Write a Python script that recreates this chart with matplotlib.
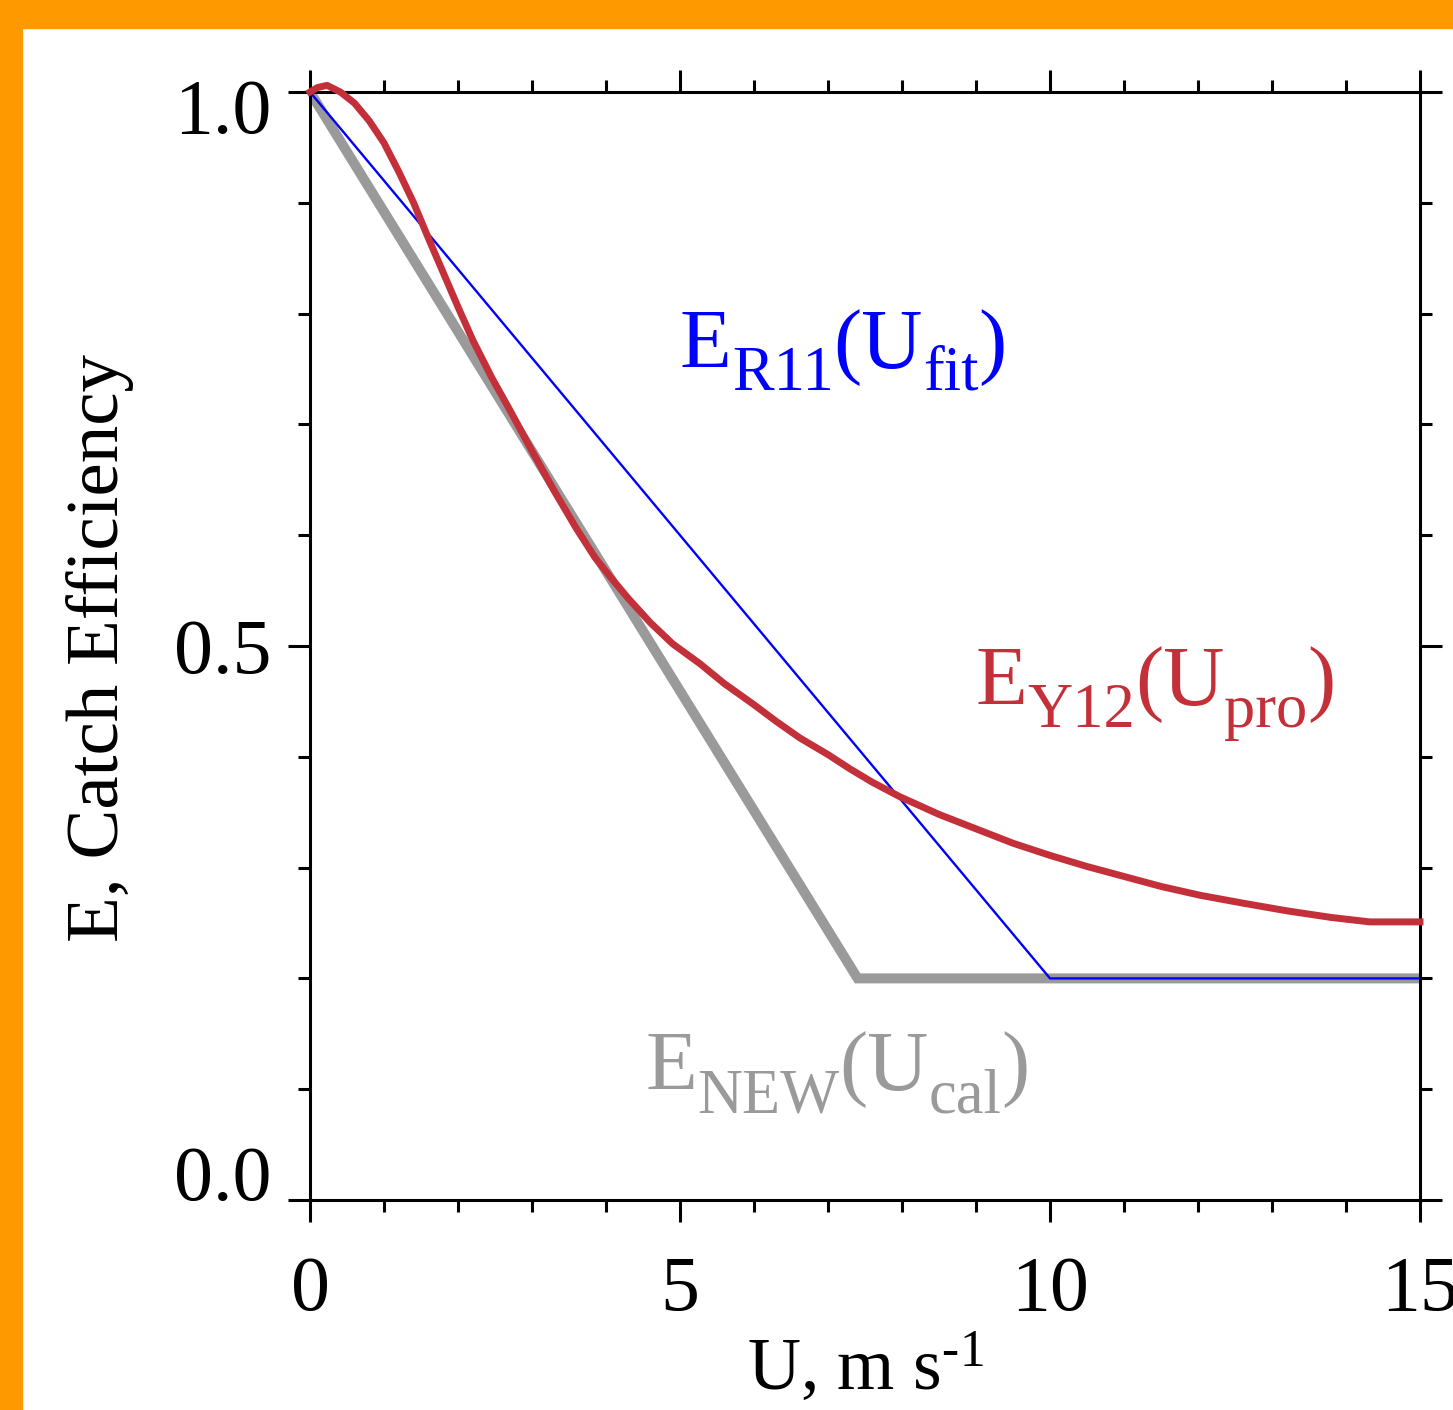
import numpy as np
import matplotlib.pyplot as plt
from matplotlib.patches import Rectangle
from matplotlib.ticker import MultipleLocator
import matplotlib.transforms as mtransforms

plt.rcParams['font.family'] = ['Liberation Serif', 'DejaVu Serif']
plt.rcParams['mathtext.fontset'] = 'custom'
plt.rcParams['mathtext.rm'] = 'Liberation Serif'
plt.rcParams['mathtext.it'] = 'Liberation Serif:italic'

# Datos
u_new = [0, 7.4, 15]
e_new = [1.0, 0.2, 0.2]

u_r11 = [0, 10, 15]
e_r11 = [1.0, 0.2, 0.2]

u_y12 = [0, 0.1, 0.23, 0.41, 0.6, 0.8, 1.0, 1.2, 1.4, 1.6, 1.8, 2.0, 2.2,
         2.45, 2.7, 3.0, 3.3, 3.6, 3.85, 4.05, 4.3, 4.6, 4.9, 5.27, 5.6, 6.0,
         6.3, 6.62, 7.0, 7.3, 7.6, 7.97, 8.5, 9.0, 9.5, 10.0, 10.5, 11.0,
         11.5, 12.03, 12.6, 13.2, 13.8, 14.32, 15.0]
e_y12 = [1.0, 1.004, 1.006, 1.0, 0.990, 0.974, 0.954, 0.928, 0.900, 0.868,
         0.837, 0.806, 0.776, 0.743, 0.713, 0.676, 0.640, 0.606, 0.580, 0.563,
         0.543, 0.521, 0.502, 0.484, 0.466, 0.447, 0.432, 0.417, 0.402, 0.389,
         0.377, 0.364, 0.348, 0.335, 0.322, 0.311, 0.301, 0.292, 0.283, 0.275,
         0.268, 0.261, 0.255, 0.251, 0.251]

xticks = [0, 5, 10, 15]
yticks = [0.0, 0.5, 1.0]
ytick_labels = ['0.0', '0.5', '1.0']

W, H = 1453, 1410
fig = plt.figure(figsize=(W / 100, H / 100), dpi=100)
ax = fig.add_axes([310 / W, 1 - 1200 / H, 1110 / W, 1108 / H])

gris = '#9a9a9a'
rojo = '#c4303a'
azul = '#0000ff'

ax.plot(u_new, e_new, color=gris, lw=7.2, solid_joinstyle='miter', zorder=2)
ax.plot(u_r11, e_r11, color=azul, lw=1.7, zorder=3)
ax.plot(u_y12, e_y12, color=rojo, lw=5.0, zorder=4, clip_on=False)

ax.set_xlim(0, 15)
ax.set_ylim(0, 1)
ax.set_xticks(xticks)
ax.set_yticks(yticks)
ax.set_yticklabels(ytick_labels)
ax.xaxis.set_minor_locator(MultipleLocator(1))
ax.yaxis.set_minor_locator(MultipleLocator(0.1))

for s in ax.spines.values():
    s.set_linewidth(2.2)

ax.tick_params(which='both', direction='out', top=True, right=True,
               width=2.2, labelsize=56)
ax.tick_params(which='major', length=16)
ax.tick_params(which='minor', length=8.5)
ax.tick_params(axis='y', pad=12)
ax.tick_params(axis='x', pad=24)

# correr las etiquetas de los extremos hacia dentro
labs = ax.get_yticklabels()
labs[0].set_transform(labs[0].get_transform() +
                      mtransforms.ScaledTranslation(0, 20 / 72, fig.dpi_scale_trans))
labs[2].set_transform(labs[2].get_transform() +
                      mtransforms.ScaledTranslation(0, -10 / 72, fig.dpi_scale_trans))

fig.text(100 / W, 1 - 648 / H, 'E, Catch Efficiency', rotation=90,
         ha='center', va='center', fontsize=54)
fig.text(865 / W, 1 - 1368 / H, 'U, m s$^{\\mathrm{\u20101}}$',
         ha='center', va='center', fontsize=53)

# etiquetas de las curvas, armadas por trozos (texto normal y subindice)
renderer = fig.canvas.get_renderer()


def etiqueta(x, y, partes, color):
    dx = 0
    for txt, sub in partes:
        tam = 45 if sub else 61
        dy = -22 if sub else 0
        tr = mtransforms.offset_copy(ax.transData, fig=fig, x=dx, y=dy, units='dots')
        t = ax.text(x, y, txt, transform=tr, fontsize=tam, color=color,
                    ha='left', va='baseline')
        dx += t.get_window_extent(renderer).width


etiqueta(5.0, 0.751, [('E', False), ('R11', True), ('(U', False),
                      ('fit', True), (')', False)], azul)
etiqueta(8.99, 0.447, [('E', False), ('Y12', True), ('(U', False),
                       ('pro', True), (')', False)], rojo)
etiqueta(4.53, 0.099, [('E', False), ('NEW', True), ('(U', False),
                       ('cal', True), (')', False)], gris)

# marco naranja
naranja = '#ff9900'
fig.patches.append(Rectangle((0, 1 - 28 / H), 1, 28 / H, transform=fig.transFigure,
                             color=naranja, zorder=10))
fig.patches.append(Rectangle((0, 0), 22 / W, 1, transform=fig.transFigure,
                             color=naranja, zorder=10))

fig.savefig('out.png', dpi=100)
